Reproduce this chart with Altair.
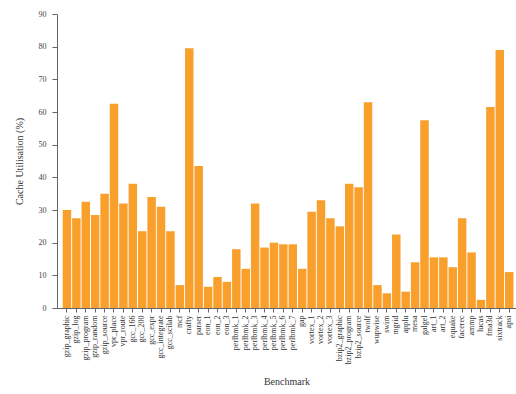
import altair as alt
import pandas as pd

benchmarks = [
    "gzip_graphic", "gzip_log", "gzip_program", "gzip_random", "gzip_source",
    "vpr_place", "vpr_route", "gcc_166", "gcc_200", "gcc_expr", "gcc_integrate",
    "gcc_scilab", "mcf", "crafty", "parser", "eon_1", "eon_2", "eon_3",
    "perlbmk_1", "perlbmk_2", "perlbmk_3", "perlbmk_4", "perlbmk_5", "perlbmk_6",
    "perlbmk_7", "gap", "vortex_1", "vortex_2", "vortex_3", "bzip2_graphic",
    "bzip2_program", "bzip2_source", "twolf", "wupwise", "swim", "mgrid",
    "applu", "mesa", "galgel", "art_1", "art_2", "equake", "facerec", "ammp",
    "lucas", "fma3d", "sixtrack", "apsi",
]
utilisation = [
    30, 27.5, 32.5, 28.5, 35,
    62.5, 32, 38, 23.5, 34, 31,
    23.5, 7, 79.5, 43.5, 6.5, 9.5, 8,
    18, 12, 32, 18.5, 20, 19.5,
    19.5, 12, 29.5, 33, 27.5, 25,
    38, 37, 63, 7, 4.5, 22.5,
    5, 14, 57.5, 15.5, 15.5, 12.5, 27.5, 17,
    2.5, 61.5, 79, 11,
]

df = pd.DataFrame({"Benchmark": benchmarks, "Util": utilisation})

font = "Liberation Serif"

chart = alt.Chart(df).mark_bar(color="#F89F2C").encode(
    x=alt.X(
        "Benchmark:N",
        sort=benchmarks,
        scale=alt.Scale(paddingInner=0.1, paddingOuter=0.44, align=0.69),
        axis=alt.Axis(
            title="Benchmark",
            labelAngle=-90,
            labelFont=font,
            labelFontSize=8,
            labelColor="#333333",
            labelPadding=3,
            tickSize=4,
            tickColor="#666666",
            domainColor="#666666",
            titleFont=font,
            titleFontSize=10,
            titleFontWeight="normal",
            titleColor="#333333",
            titlePadding=13,
        ),
    ),
    y=alt.Y(
        "Util:Q",
        scale=alt.Scale(domain=[0, 90], nice=False),
        axis=alt.Axis(
            title="Cache Utilisation (%)",
            values=list(range(0, 91, 10)),
            grid=False,
            labelFont=font,
            labelFontSize=8,
            labelColor="#444444",
            labelPadding=6,
            tickSize=5,
            tickColor="#666666",
            domainColor="#666666",
            titleFont=font,
            titleFontSize=10,
            titleFontWeight="normal",
            titleColor="#333333",
            titlePadding=14,
        ),
    ),
).properties(
    width=459,
    height=294,
    autosize=alt.AutoSizeParams(type="none"),
    padding={"left": 57, "top": 14, "right": 0, "bottom": 86},
).configure_view(stroke=None)

chart.save("out.html", embed_options={"renderer": "svg", "actions": False})
